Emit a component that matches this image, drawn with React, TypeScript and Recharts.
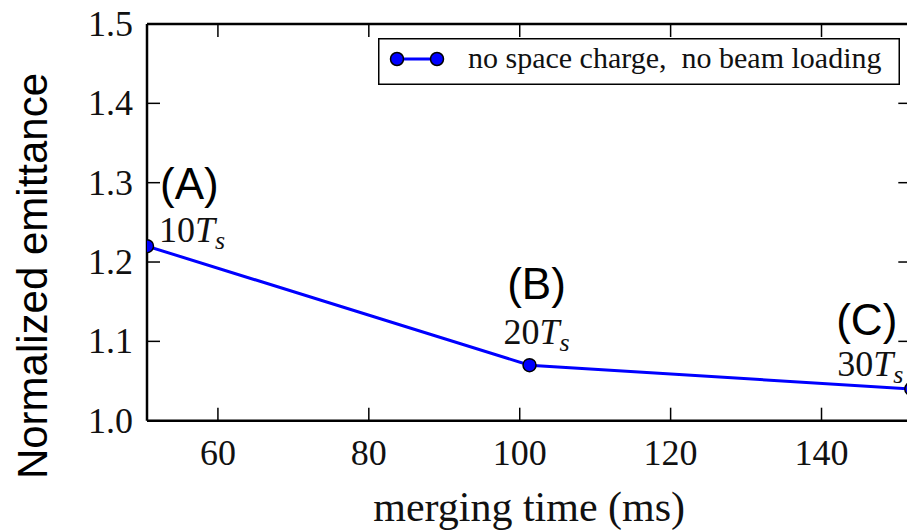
import React from "react";
import {
  Label,
  LabelList,
  Legend,
  Line,
  LineChart,
  XAxis,
  YAxis,
} from "recharts";

// merging time (ms) for 10, 20 and 30 synchrotron periods
const mergingTime = [50.6, 101.3, 151.9];
const emittance = [1.22, 1.07, 1.04];
const caseTags = ["(A)", "(B)", "(C)"];
const periodMultiples = [10, 20, 30];

const xTicks = [60, 80, 100, 120, 140];
const yTicks = [1.0, 1.1, 1.2, 1.3, 1.4, 1.5];

const data = mergingTime.map((t, i) => ({
  t,
  emittance: emittance[i],
  tag: caseTags[i],
  periods: periodMultiples[i],
}));

const SERIF = "'Liberation Serif', 'Times New Roman', serif";
const SANS = "'Liberation Sans', Arial, sans-serif";
const BLUE = "#0000ff";
const TICK_LEN = 13;

const W = 940;
const H = 531;

function BottomTick({ x, y, payload }: any) {
  return (
    <g>
      <line x1={x} y1={y} x2={x} y2={y - TICK_LEN} stroke="#000" strokeWidth={1.5} />
      <text x={x} y={y + 44} textAnchor="middle" fontFamily={SERIF} fontSize={36} fill="#111">
        {payload.value}
      </text>
    </g>
  );
}

function TopTick({ x, y }: any) {
  return <line x1={x} y1={y} x2={x} y2={y + TICK_LEN} stroke="#000" strokeWidth={1.5} />;
}

function LeftTick({ x, y, payload }: any) {
  return (
    <g>
      <line x1={x} y1={y} x2={x + TICK_LEN} y2={y} stroke="#000" strokeWidth={1.5} />
      <text x={x - 14} y={y + 12} textAnchor="end" fontFamily={SERIF} fontSize={36} fill="#111">
        {Number(payload.value).toFixed(1)}
      </text>
    </g>
  );
}

function RightTick({ x, y }: any) {
  return <line x1={x} y1={y} x2={x - TICK_LEN} y2={y} stroke="#000" strokeWidth={1.5} />;
}

// tag above, "N T_s" below; A sits right of its point, B centred, C to the left
function PointLabel(props: any) {
  const { index } = props;
  const vb = props.viewBox || {};
  const px = props.x ?? vb.x;
  const py = props.y ?? vb.y;
  const row = data[index];
  if (!row || px == null || py == null) return null;
  let anchor: "start" | "middle" | "end" = "start";
  let tagDx = 13, tagDy = -47, perDx = 12, perDy = -4;
  if (index === 1) {
    anchor = "middle";
    tagDx = 7; tagDy = -66; perDx = 7; perDy = -21;
  } else if (index === 2) {
    anchor = "end";
    tagDx = -14; tagDy = -54; perDx = -8; perDy = -13;
  }
  return (
    <g>
      <text x={px + tagDx} y={py + tagDy} textAnchor={anchor} fontFamily={SANS} fontSize={44} fill="#000">
        {row.tag}
      </text>
      <text x={px + perDx} y={py + perDy} textAnchor={anchor} fontFamily={SERIF} fontSize={36} fill="#111">
        {row.periods}
        <tspan fontStyle="italic">T</tspan>
        <tspan fontStyle="italic" fontSize={26} dy={7}>s</tspan>
      </text>
    </g>
  );
}

function LegendBox() {
  return (
    <svg width={522} height={47} style={{ display: "block" }}>
      <rect x={0.75} y={0.75} width={520.5} height={45.5} fill="#fff" stroke="#000" strokeWidth={1.5} />
      <line x1={19} y1={21} x2={59} y2={21} stroke={BLUE} strokeWidth={3} />
      <circle cx={19} cy={21} r={6.5} fill={BLUE} stroke="#000" strokeWidth={1.5} />
      <circle cx={59} cy={21} r={6.5} fill={BLUE} stroke="#000" strokeWidth={1.5} />
      <text x={90} y={30} fontFamily={SERIF} fontSize={30} fill="#111">
        no space charge,{"\u2002"}no beam loading
      </text>
    </svg>
  );
}

function YTitle({ viewBox }: any) {
  const x = viewBox.x + 47;
  const y = 276;
  return (
    <text
      x={x}
      y={y}
      transform={`rotate(-90, ${x}, ${y})`}
      textAnchor="middle"
      fontFamily={SANS}
      fontSize={42}
      fill="#000"
    >
      Normalized emittance
    </text>
  );
}

function XTitle({ viewBox }: any) {
  return (
    <text
      x={viewBox.x + viewBox.width / 2}
      y={viewBox.y + 100}
      textAnchor="middle"
      fontFamily={SERIF}
      fontSize={42}
      fill="#111"
    >
      merging time (ms)
    </text>
  );
}

export default function App() {
  return (
    <div
      style={{
        position: "absolute",
        left: 0,
        top: 0,
        width: 907,
        height: 531,
        overflow: "hidden",
        background: "#fff",
      }}
    >
      <LineChart width={W} height={H} data={data} margin={{ top: 0, right: 0, bottom: 0, left: 0 }}>
        <XAxis
          xAxisId="bottom"
          dataKey="t"
          type="number"
          domain={[mergingTime[0], mergingTime[mergingTime.length - 1]]}
          allowDataOverflow
          ticks={xTicks}
          interval={0}
          height={110.3}
          axisLine={{ stroke: "#000", strokeWidth: 2.5 }}
          tickLine={false}
          tickSize={0}
          tickMargin={0}
          tick={<BottomTick />}
        >
          <Label content={<XTitle />} />
        </XAxis>
        <XAxis
          xAxisId="top"
          orientation="top"
          dataKey="t"
          type="number"
          domain={[mergingTime[0], mergingTime[mergingTime.length - 1]]}
          allowDataOverflow
          ticks={xTicks}
          interval={0}
          height={24}
          axisLine={{ stroke: "#000", strokeWidth: 2.5 }}
          tickLine={false}
          tickSize={0}
          tickMargin={0}
          tick={<TopTick />}
        />
        <YAxis
          yAxisId="left"
          type="number"
          domain={[1.0, 1.5]}
          allowDataOverflow
          ticks={yTicks}
          interval={0}
          width={147}
          axisLine={{ stroke: "#000", strokeWidth: 2.5 }}
          tickLine={false}
          tickSize={0}
          tickMargin={0}
          tick={<LeftTick />}
        >
          <Label content={<YTitle />} />
        </YAxis>
        <YAxis
          yAxisId="right"
          orientation="right"
          type="number"
          domain={[1.0, 1.5]}
          allowDataOverflow
          ticks={yTicks.slice(1, -1)}
          interval={0}
          width={W - 911.3}
          axisLine={{ stroke: "#000", strokeWidth: 2.5 }}
          tickLine={false}
          tickSize={0}
          tickMargin={0}
          tick={<RightTick />}
        />
        <Legend
          layout="horizontal"
          align="center"
          verticalAlign="middle"
          content={<LegendBox />}
          wrapperStyle={{ top: 38, left: 378, width: 522, height: 47 }}
        />
        <Line
          xAxisId="bottom"
          yAxisId="left"
          type="linear"
          dataKey="emittance"
          stroke={BLUE}
          strokeWidth={3}
          dot={{ r: 6.5, fill: BLUE, stroke: "#000", strokeWidth: 1.5 }}
          isAnimationActive={false}
        >
          <LabelList dataKey="tag" content={<PointLabel />} />
        </Line>
        <Line
          xAxisId="top"
          yAxisId="right"
          dataKey="emittance"
          stroke="none"
          dot={false}
          legendType="none"
          isAnimationActive={false}
        />
      </LineChart>
    </div>
  );
}
